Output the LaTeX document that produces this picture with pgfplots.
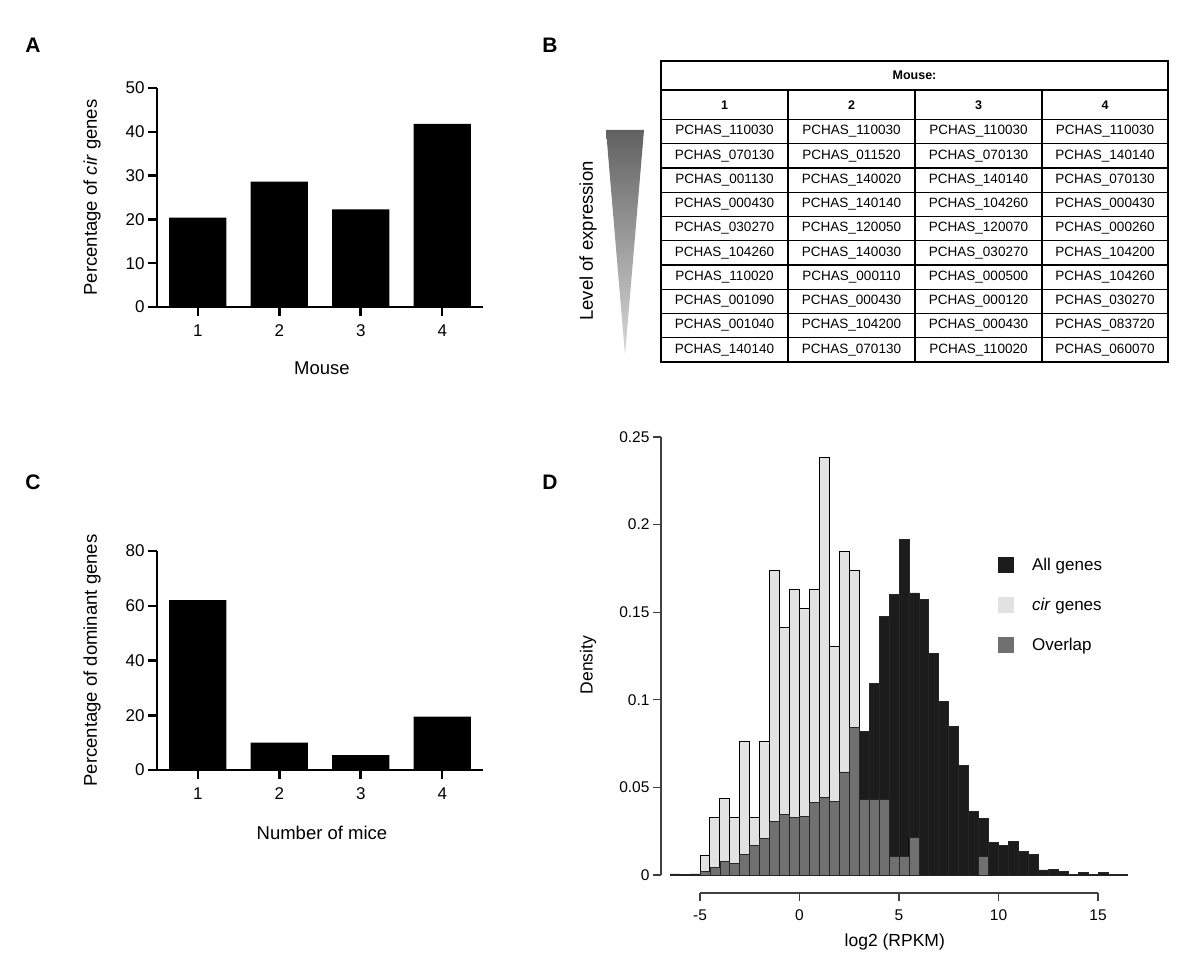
\documentclass[border=0pt]{standalone}
\usepackage{pgfplots}
\pgfplotsset{compat=1.18}
\usepackage{pgfplotstable}
\usepackage{fontspec}
\setmainfont{Liberation Sans}
\definecolor{allc}{HTML}{1C1C1C}
\definecolor{circ}{HTML}{E2E2E2}
\definecolor{ovc}{HTML}{707070}
\pgfplotsset{sqleg/.style={legend image code/.code={\fill[##1,draw=none] (0pt,-8pt) rectangle (16pt,8pt);}}}

\pgfplotstableread{
x A C O
-6.25 0.0006 0 0
-5.75 0.0003 0 0
-5.25 0.0006 0 0
-4.75 0.0021 0.0111 0.0021
-4.25 0.0044 0.0327 0.0044
-3.75 0.0078 0.0436 0.0078
-3.25 0.0065 0.0327 0.0065
-2.75 0.0117 0.0760 0.0117
-2.25 0.0168 0.0327 0.0168
-1.75 0.0210 0.0760 0.0210
-1.25 0.0306 0.1738 0.0306
-0.75 0.0344 0.1414 0.0344
-0.25 0.0330 0.1629 0.0330
0.25 0.0334 0.1521 0.0334
0.75 0.0416 0.1629 0.0416
1.25 0.0445 0.2385 0.0445
1.75 0.0422 0.1305 0.0422
2.25 0.0588 0.1845 0.0588
2.75 0.0840 0.1738 0.0840
3.25 0.0821 0.0432 0.0432
3.75 0.1095 0.0432 0.0432
4.25 0.1477 0.0432 0.0432
4.75 0.1601 0.0107 0.0107
5.25 0.1916 0.0107 0.0107
5.75 0.1610 0.0216 0.0216
6.25 0.1572 0 0
6.75 0.1266 0 0
7.25 0.0993 0 0
7.75 0.0850 0 0
8.25 0.0627 0 0
8.75 0.0365 0 0
9.25 0.0321 0.0107 0.0107
9.75 0.0187 0 0
10.25 0.0168 0 0
10.75 0.0191 0 0
11.25 0.0134 0 0
11.75 0.0115 0 0
12.25 0.0029 0 0
12.75 0.0034 0 0
13.25 0.0019 0 0
13.75 0.0004 0 0
14.25 0.0013 0 0
14.75 0.0004 0 0
15.25 0.0013 0 0
15.75 0.0002 0 0
16.25 0.0002 0 0
}\histdata

\begin{document}
\begin{tikzpicture}
\path[use as bounding box] (0pt,0pt) rectangle (1200pt,978pt);

% panel letters
\node[font=\bfseries\fontsize{21}{25}\selectfont] at (33pt,933pt) {A};
\node[font=\bfseries\fontsize{21}{25}\selectfont] at (550pt,933pt) {B};
\node[font=\bfseries\fontsize{21}{25}\selectfont] at (33pt,496pt) {C};
\node[font=\bfseries\fontsize{21}{25}\selectfont] at (550pt,496pt) {D};

% Panel A
\begin{axis}[
  at={(157pt,671pt)}, anchor=south west, scale only axis,
  width=326pt, height=219pt,
  xmin=0.5, xmax=4.5, ymin=0, ymax=50,
  axis x line*=bottom, axis y line*=left,
  axis line style={-, line width=2.5pt},
  x axis line style={shorten <=-9pt},
  xtick={1,2,3,4}, ytick={0,10,20,30,40,50},
  tick align=outside, major tick length=9pt,
  tick style={line width=2.5pt, black},
  /pgf/number format/assume math mode=true,
  ticklabel style={font=\fontsize{17}{20}\selectfont},
  xticklabel style={yshift=-5pt},
  xlabel={Mouse},
  ylabel={Percentage of \textit{cir} genes},
  label style={font=\fontsize{18.5}{22}\selectfont},
  xlabel style={at={(axis description cs:0.506,-0.279)}, anchor=center},
  ylabel style={at={(axis description cs:-0.199,0.5)}, anchor=center},
]
\addplot[ybar, bar width=0.7, bar shift=0pt, fill=black, draw=none] coordinates {(1,20.4) (2,28.6) (3,22.3) (4,41.8)};
\end{axis}

% Panel C
\begin{axis}[
  at={(157pt,208pt)}, anchor=south west, scale only axis,
  width=326pt, height=219pt,
  xmin=0.5, xmax=4.5, ymin=0, ymax=80,
  axis x line*=bottom, axis y line*=left,
  axis line style={-, line width=2.5pt},
  x axis line style={shorten <=-9pt},
  xtick={1,2,3,4}, ytick={0,20,40,60,80},
  tick align=outside, major tick length=9pt,
  tick style={line width=2.5pt, black},
  /pgf/number format/assume math mode=true,
  ticklabel style={font=\fontsize{17}{20}\selectfont},
  xticklabel style={yshift=-5pt},
  xlabel={Number of mice},
  ylabel={Percentage of dominant genes},
  label style={font=\fontsize{18.5}{22}\selectfont},
  xlabel style={at={(axis description cs:0.506,-0.288)}, anchor=center},
  ylabel style={at={(axis description cs:-0.199,0.5)}, anchor=center},
]
\addplot[ybar, bar width=0.7, bar shift=0pt, fill=black, draw=none] coordinates {(1,62.1) (2,10.0) (3,5.4) (4,19.5)};
\end{axis}

% Panel D
\begin{axis}[
  at={(661pt,85pt)}, anchor=south west, scale only axis,
  width=437pt, height=456pt,
  xmin=-6.96, xmax=15, ymin=-0.01027, ymax=0.25,
  clip=false,
  axis x line*=bottom, axis y line*=left,
  axis line style={-, black!75, line width=1.1pt},
  x axis line style={shorten <=39pt},
  y axis line style={shorten <=18pt},
  xtick={-5,0,5,10,15}, ytick={0,0.05,0.1,0.15,0.2,0.25},
  yticklabels={0,0.05,0.1,0.15,0.2,0.25},
  tick align=outside, major tick length=8pt,
  tick style={line width=1.1pt, black!75},
  /pgf/number format/assume math mode=true,
  ticklabel style={font=\fontsize{15.5}{18}\selectfont},
  xticklabel style={yshift=-5pt},
  xlabel={log2 (RPKM)},
  ylabel={Density},
  label style={font=\fontsize{17.5}{21}\selectfont},
  xlabel style={at={(axis description cs:0.535,-0.107)}, anchor=center},
  ylabel style={at={(axis description cs:-0.167,0.5)}, anchor=center},
  legend style={at={(axis description cs:0.771,0.737)}, anchor=north west,
    draw=none, fill=none, inner sep=0pt, row sep=24pt,
    font=\fontsize{17}{20}\selectfont,
    nodes={inner sep=0pt, anchor=west},
    /tikz/every odd column/.append style={column sep=18pt}},
  legend cell align=left,
]
\addplot[ybar, bar width=0.5, bar shift=0pt, fill=allc, draw=black!85, line width=0.8pt, sqleg] table[x=x,y=A]{\histdata};
\addlegendentry{All genes}
\addplot[ybar, bar width=0.5, bar shift=0pt, fill=circ, draw=black, line width=1pt, sqleg] table[x=x,y=C]{\histdata};
\addlegendentry{\textit{cir} genes}
\addplot[ybar, bar width=0.5, bar shift=0pt, fill=ovc, draw=black!85, line width=0.8pt, sqleg] table[x=x,y=O]{\histdata};
\addlegendentry{Overlap}
\end{axis}

% Panel B: table
\shade[top color=black!62, bottom color=black!15] (606pt,848pt) -- (644pt,848pt) -- (625pt,623pt) -- cycle;
\node[rotate=90, font=\fontsize{18.5}{22}\selectfont] at (588pt,737pt) {Level of expression};
\draw[line width=1.4pt] (661pt,917pt) rectangle (1168pt,616pt);
\draw[line width=1.3pt] (661pt,888pt) -- (1168pt,888pt);
\foreach \xx in {788,915,1042} {\draw[line width=1.3pt] (\xx pt,888pt) -- (\xx pt,616pt);}
\foreach \i in {0,...,9} {\draw[line width=1.3pt] (661pt,{(858.5-24.25*\i)*1pt}) -- (1168pt,{(858.5-24.25*\i)*1pt});}
\node[font=\bfseries\fontsize{12.5}{15}\selectfont] at (914.5pt,902.5pt) {Mouse:};
\foreach \n/\xx in {1/724.5,2/851.5,3/978.5,4/1105} {\node[font=\bfseries\fontsize{12.5}{15}\selectfont] at (\xx pt,873.25pt) {\n};}
\foreach \a/\b/\c/\d [count=\i from 0] in {110030/110030/110030/110030, 070130/011520/070130/140140, 001130/140020/140140/070130, 000430/140140/104260/000430, 030270/120050/120070/000260, 104260/140030/030270/104200, 110020/000110/000500/104260, 001090/000430/000120/030270, 001040/104200/000430/083720, 140140/070130/110020/060070} {
  \pgfmathsetmacro{\yy}{858.5-24.25*(\i+0.5)}
  \node[font=\fontsize{13.5}{16}\selectfont] at (724.5pt,\yy pt) {PCHAS\_\a};
  \node[font=\fontsize{13.5}{16}\selectfont] at (851.5pt,\yy pt) {PCHAS\_\b};
  \node[font=\fontsize{13.5}{16}\selectfont] at (978.5pt,\yy pt) {PCHAS\_\c};
  \node[font=\fontsize{13.5}{16}\selectfont] at (1105pt,\yy pt) {PCHAS\_\d};
}
\end{tikzpicture}
\end{document}
